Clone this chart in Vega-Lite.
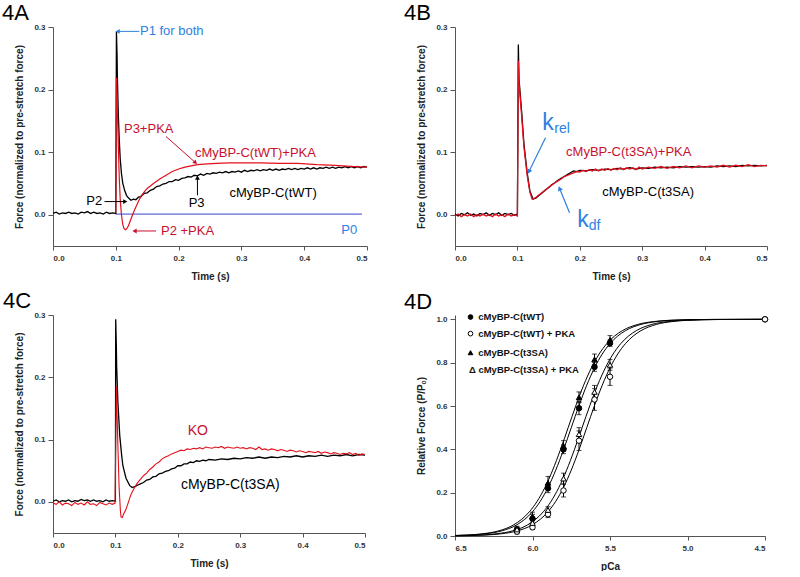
{
"$schema":"https://vega.github.io/schema/vega-lite/v6.json",
"background":"white",
"padding":{"left":2,"top":2,"right":0,"bottom":0},
"datasets":{
"Ak":[{"t":0,"f":0.002},{"t":0.005,"f":0.004},{"t":0.01,"f":0.001},{"t":0.015,"f":0.003},{"t":0.02,"f":0.002},{"t":0.025,"f":0.004},{"t":0.03,"f":0.002},{"t":0.035,"f":0.003},{"t":0.04,"f":0.001},{"t":0.045,"f":0.004},{"t":0.05,"f":0.003},{"t":0.055,"f":0.005},{"t":0.06,"f":0.002},{"t":0.065,"f":0.004},{"t":0.07,"f":0.002},{"t":0.075,"f":0.003},{"t":0.08,"f":0.001},{"t":0.085,"f":0.004},{"t":0.09,"f":0.002},{"t":0.095,"f":0.003},{"t":0.1,"f":0.002},{"t":0.101,"f":0.293},{"t":0.102,"f":0.255},{"t":0.1025,"f":0.22},{"t":0.104,"f":0.16},{"t":0.1055,"f":0.12},{"t":0.107,"f":0.09},{"t":0.109,"f":0.066},{"t":0.111,"f":0.051},{"t":0.114,"f":0.039},{"t":0.117,"f":0.031},{"t":0.12,"f":0.027},{"t":0.124,"f":0.023},{"t":0.128,"f":0.025},{"t":0.132,"f":0.024},{"t":0.136,"f":0.028},{"t":0.14,"f":0.029},{"t":0.145,"f":0.034},{"t":0.15,"f":0.035},{"t":0.155,"f":0.039},{"t":0.16,"f":0.041},{"t":0.165,"f":0.045},{"t":0.17,"f":0.046},{"t":0.175,"f":0.049},{"t":0.18,"f":0.05},{"t":0.185,"f":0.053},{"t":0.19,"f":0.053},{"t":0.195,"f":0.056},{"t":0.2,"f":0.055},{"t":0.205,"f":0.058},{"t":0.21,"f":0.059},{"t":0.215,"f":0.061},{"t":0.22,"f":0.06},{"t":0.225,"f":0.063},{"t":0.23,"f":0.062},{"t":0.235,"f":0.065},{"t":0.24,"f":0.063},{"t":0.245,"f":0.066},{"t":0.25,"f":0.065},{"t":0.255,"f":0.067},{"t":0.26,"f":0.066},{"t":0.265,"f":0.068},{"t":0.27,"f":0.067},{"t":0.275,"f":0.069},{"t":0.28,"f":0.067},{"t":0.285,"f":0.069},{"t":0.29,"f":0.068},{"t":0.295,"f":0.07},{"t":0.3,"f":0.068},{"t":0.305,"f":0.071},{"t":0.31,"f":0.069},{"t":0.315,"f":0.071},{"t":0.32,"f":0.07},{"t":0.325,"f":0.072},{"t":0.33,"f":0.07},{"t":0.335,"f":0.072},{"t":0.34,"f":0.071},{"t":0.345,"f":0.073},{"t":0.35,"f":0.071},{"t":0.355,"f":0.073},{"t":0.36,"f":0.071},{"t":0.365,"f":0.073},{"t":0.37,"f":0.072},{"t":0.375,"f":0.074},{"t":0.38,"f":0.072},{"t":0.385,"f":0.074},{"t":0.39,"f":0.072},{"t":0.395,"f":0.074},{"t":0.4,"f":0.073},{"t":0.405,"f":0.075},{"t":0.41,"f":0.073},{"t":0.415,"f":0.075},{"t":0.42,"f":0.073},{"t":0.425,"f":0.075},{"t":0.43,"f":0.074},{"t":0.435,"f":0.076},{"t":0.44,"f":0.074},{"t":0.445,"f":0.076},{"t":0.45,"f":0.074},{"t":0.455,"f":0.076},{"t":0.46,"f":0.075},{"t":0.465,"f":0.077},{"t":0.47,"f":0.075},{"t":0.475,"f":0.077},{"t":0.48,"f":0.075},{"t":0.485,"f":0.077},{"t":0.49,"f":0.075},{"t":0.495,"f":0.077},{"t":0.5,"f":0.076}],
"Ar":[{"t":0.1,"f":0.003},{"t":0.101,"f":0.219},{"t":0.1025,"f":0.17},{"t":0.104,"f":0.11},{"t":0.1055,"f":0.06},{"t":0.107,"f":0.025},{"t":0.109,"f":0.0},{"t":0.111,"f":-0.015},{"t":0.113,"f":-0.022},{"t":0.115,"f":-0.024},{"t":0.117,"f":-0.023},{"t":0.12,"f":-0.018},{"t":0.123,"f":-0.01},{"t":0.126,"f":-0.002},{"t":0.13,"f":0.008},{"t":0.135,"f":0.019},{"t":0.14,"f":0.029},{"t":0.145,"f":0.036},{"t":0.15,"f":0.042},{"t":0.16,"f":0.05},{"t":0.17,"f":0.057},{"t":0.18,"f":0.063},{"t":0.19,"f":0.069},{"t":0.2,"f":0.073},{"t":0.21,"f":0.076},{"t":0.22,"f":0.078},{"t":0.23,"f":0.08},{"t":0.24,"f":0.081},{"t":0.26,"f":0.082},{"t":0.28,"f":0.083},{"t":0.3,"f":0.083},{"t":0.33,"f":0.083},{"t":0.36,"f":0.082},{"t":0.39,"f":0.082},{"t":0.42,"f":0.08},{"t":0.45,"f":0.079},{"t":0.48,"f":0.077},{"t":0.5,"f":0.076}],
"A0":[{"t":0.1,"t2":0.492,"f":0.001}],
"Aa":[{"t":0.104,"f":0.293,"t2":0.1375,"f2":0.293,"d":"left","r":"ref"},{"t":0.226,"f":0.084,"t2":0.18,"f2":0.125,"d":"dr","r":"pka"},{"t":0.114,"f":0.021,"t2":0.082,"f2":0.021,"d":"right","r":"ctrl"},{"t":0.23,"f":0.058,"t2":0.23,"f2":0.031,"d":"up","r":"ctrl"},{"t":0.131,"f":-0.026,"t2":0.164,"f2":-0.026,"d":"left","r":"pka"}],
"At":[{"txt":"P1 for both","t":0.1385,"f":0.293,"r":"ref"},{"txt":"P3+PKA","t":0.113,"f":0.137,"r":"pka"},{"txt":"cMyBP-C(tWT)+PKA","t":0.226,"f":0.099,"r":"pka"},{"txt":"cMyBP-C(tWT)","t":0.281,"f":0.035,"r":"ctrl"},{"txt":"P3","t":0.216,"f":0.019,"r":"ctrl"},{"txt":"P2","t":0.053,"f":0.022,"r":"ctrl"},{"txt":"P2 +PKA","t":0.172,"f":-0.026,"r":"pka"},{"txt":"P0","t":0.459,"f":-0.024,"r":"ref"}],
"Bk":[{"t":0,"f":0.001},{"t":0.005,"f":-0.002},{"t":0.01,"f":0.002},{"t":0.015,"f":0.0},{"t":0.02,"f":0.003},{"t":0.025,"f":-0.001},{"t":0.03,"f":0.001},{"t":0.035,"f":-0.002},{"t":0.04,"f":0.002},{"t":0.045,"f":0.0},{"t":0.05,"f":0.003},{"t":0.055,"f":-0.001},{"t":0.06,"f":0.002},{"t":0.065,"f":0.0},{"t":0.07,"f":0.003},{"t":0.075,"f":-0.001},{"t":0.08,"f":0.002},{"t":0.085,"f":0.0},{"t":0.09,"f":0.002},{"t":0.095,"f":-0.001},{"t":0.1,"f":0.001},{"t":0.1015,"f":0.272},{"t":0.1025,"f":0.218},{"t":0.1067,"f":0.166},{"t":0.1105,"f":0.113},{"t":0.1158,"f":0.066},{"t":0.12,"f":0.038},{"t":0.1249,"f":0.025},{"t":0.13,"f":0.027},{"t":0.135,"f":0.031},{"t":0.14,"f":0.035},{"t":0.145,"f":0.04},{"t":0.15,"f":0.043},{"t":0.155,"f":0.048},{"t":0.16,"f":0.051},{"t":0.165,"f":0.055},{"t":0.17,"f":0.058},{"t":0.175,"f":0.061},{"t":0.18,"f":0.064},{"t":0.185,"f":0.067},{"t":0.19,"f":0.07},{"t":0.195,"f":0.069},{"t":0.2,"f":0.071},{"t":0.21,"f":0.07},{"t":0.22,"f":0.072},{"t":0.23,"f":0.071},{"t":0.24,"f":0.073},{"t":0.25,"f":0.072},{"t":0.26,"f":0.074},{"t":0.27,"f":0.073},{"t":0.28,"f":0.075},{"t":0.29,"f":0.073},{"t":0.3,"f":0.075},{"t":0.31,"f":0.074},{"t":0.32,"f":0.076},{"t":0.33,"f":0.075},{"t":0.34,"f":0.076},{"t":0.35,"f":0.075},{"t":0.36,"f":0.077},{"t":0.37,"f":0.076},{"t":0.38,"f":0.077},{"t":0.39,"f":0.076},{"t":0.4,"f":0.077},{"t":0.41,"f":0.076},{"t":0.42,"f":0.078},{"t":0.43,"f":0.077},{"t":0.44,"f":0.078},{"t":0.45,"f":0.077},{"t":0.46,"f":0.079},{"t":0.47,"f":0.078},{"t":0.48,"f":0.079},{"t":0.49,"f":0.078},{"t":0.5,"f":0.079}],
"Br":[{"t":0,"f":-0.002},{"t":0.005,"f":0.001},{"t":0.01,"f":-0.003},{"t":0.015,"f":0.0},{"t":0.02,"f":-0.002},{"t":0.025,"f":0.001},{"t":0.03,"f":-0.003},{"t":0.035,"f":0.0},{"t":0.04,"f":-0.002},{"t":0.045,"f":0.001},{"t":0.05,"f":-0.002},{"t":0.055,"f":0.0},{"t":0.06,"f":-0.003},{"t":0.065,"f":0.001},{"t":0.07,"f":-0.002},{"t":0.075,"f":0.0},{"t":0.08,"f":-0.003},{"t":0.085,"f":0.001},{"t":0.09,"f":-0.002},{"t":0.095,"f":0.0},{"t":0.1,"f":-0.002},{"t":0.1015,"f":0.246},{"t":0.103,"f":0.205},{"t":0.1067,"f":0.16},{"t":0.1105,"f":0.108},{"t":0.1158,"f":0.062},{"t":0.12,"f":0.036},{"t":0.1235,"f":0.025},{"t":0.127,"f":0.026},{"t":0.13,"f":0.028},{"t":0.135,"f":0.032},{"t":0.14,"f":0.036},{"t":0.145,"f":0.039},{"t":0.15,"f":0.044},{"t":0.155,"f":0.047},{"t":0.16,"f":0.051},{"t":0.165,"f":0.054},{"t":0.17,"f":0.057},{"t":0.175,"f":0.061},{"t":0.18,"f":0.063},{"t":0.185,"f":0.065},{"t":0.19,"f":0.067},{"t":0.195,"f":0.069},{"t":0.2,"f":0.068},{"t":0.205,"f":0.071},{"t":0.21,"f":0.069},{"t":0.215,"f":0.072},{"t":0.22,"f":0.07},{"t":0.225,"f":0.073},{"t":0.23,"f":0.07},{"t":0.235,"f":0.073},{"t":0.24,"f":0.071},{"t":0.245,"f":0.074},{"t":0.25,"f":0.071},{"t":0.255,"f":0.074},{"t":0.26,"f":0.072},{"t":0.265,"f":0.075},{"t":0.27,"f":0.072},{"t":0.275,"f":0.075},{"t":0.28,"f":0.073},{"t":0.285,"f":0.075},{"t":0.29,"f":0.072},{"t":0.295,"f":0.076},{"t":0.3,"f":0.073},{"t":0.31,"f":0.076},{"t":0.32,"f":0.074},{"t":0.33,"f":0.077},{"t":0.34,"f":0.074},{"t":0.35,"f":0.077},{"t":0.36,"f":0.075},{"t":0.37,"f":0.078},{"t":0.38,"f":0.075},{"t":0.39,"f":0.078},{"t":0.4,"f":0.076},{"t":0.41,"f":0.078},{"t":0.42,"f":0.076},{"t":0.43,"f":0.079},{"t":0.44,"f":0.076},{"t":0.45,"f":0.079},{"t":0.46,"f":0.077},{"t":0.47,"f":0.08},{"t":0.48,"f":0.077},{"t":0.49,"f":0.079},{"t":0.5,"f":0.078}],
"Ba":[{"t":0.119,"f":0.07,"t2":0.145,"f2":0.123,"d":"dl","r":"ref"},{"t":0.168,"f":0.041,"t2":0.1835,"f2":0.003,"d":"ul","r":"ref"}],
"Bt":[{"txt":"cMyBP-C(t3SA)+PKA","t":0.178,"f":0.1,"r":"pka"},{"txt":"cMyBP-C(t3SA)","t":0.236,"f":0.036,"r":"ctrl"}],
"Bk1":[{"txt":"k","t":0.14,"f":0.136,"r":"ref"},{"txt":"k","t":0.196,"f":-0.019,"r":"ref"}],
"Bk2":[{"txt":"rel","t":0.159,"f":0.131,"r":"ref"},{"txt":"df","t":0.2144,"f":-0.024,"r":"ref"}],
"Ck":[{"t":0,"f":0.001},{"t":0.005,"f":0.003},{"t":0.01,"f":0.0},{"t":0.015,"f":0.002},{"t":0.02,"f":0.001},{"t":0.025,"f":0.003},{"t":0.03,"f":0.0},{"t":0.035,"f":0.002},{"t":0.04,"f":0.001},{"t":0.045,"f":0.004},{"t":0.05,"f":0.002},{"t":0.055,"f":0.003},{"t":0.06,"f":0.001},{"t":0.065,"f":0.003},{"t":0.07,"f":0.001},{"t":0.075,"f":0.002},{"t":0.08,"f":0.0},{"t":0.085,"f":0.003},{"t":0.09,"f":0.001},{"t":0.095,"f":0.002},{"t":0.1,"f":0.001},{"t":0.1005,"f":0.293},{"t":0.1015,"f":0.25},{"t":0.102,"f":0.218},{"t":0.104,"f":0.16},{"t":0.107,"f":0.106},{"t":0.11,"f":0.075},{"t":0.112,"f":0.058},{"t":0.117,"f":0.038},{"t":0.123,"f":0.026},{"t":0.127,"f":0.023},{"t":0.132,"f":0.025},{"t":0.136,"f":0.027},{"t":0.14,"f":0.029},{"t":0.145,"f":0.031},{"t":0.15,"f":0.035},{"t":0.155,"f":0.036},{"t":0.16,"f":0.04},{"t":0.165,"f":0.041},{"t":0.17,"f":0.045},{"t":0.175,"f":0.046},{"t":0.18,"f":0.049},{"t":0.185,"f":0.05},{"t":0.19,"f":0.053},{"t":0.195,"f":0.054},{"t":0.2,"f":0.058},{"t":0.205,"f":0.058},{"t":0.21,"f":0.061},{"t":0.215,"f":0.061},{"t":0.22,"f":0.064},{"t":0.225,"f":0.063},{"t":0.23,"f":0.066},{"t":0.235,"f":0.065},{"t":0.24,"f":0.067},{"t":0.245,"f":0.066},{"t":0.25,"f":0.068},{"t":0.26,"f":0.067},{"t":0.27,"f":0.069},{"t":0.28,"f":0.068},{"t":0.29,"f":0.07},{"t":0.3,"f":0.069},{"t":0.31,"f":0.071},{"t":0.32,"f":0.07},{"t":0.33,"f":0.072},{"t":0.34,"f":0.07},{"t":0.35,"f":0.072},{"t":0.36,"f":0.071},{"t":0.37,"f":0.073},{"t":0.38,"f":0.072},{"t":0.39,"f":0.074},{"t":0.4,"f":0.072},{"t":0.41,"f":0.074},{"t":0.42,"f":0.073},{"t":0.43,"f":0.075},{"t":0.44,"f":0.073},{"t":0.45,"f":0.075},{"t":0.46,"f":0.074},{"t":0.47,"f":0.076},{"t":0.48,"f":0.074},{"t":0.49,"f":0.076},{"t":0.5,"f":0.075}],
"Cr":[{"t":0,"f":-0.002},{"t":0.005,"f":-0.004},{"t":0.01,"f":0.0},{"t":0.015,"f":-0.005},{"t":0.02,"f":-0.002},{"t":0.025,"f":-0.003},{"t":0.03,"f":-0.006},{"t":0.035,"f":-0.001},{"t":0.04,"f":-0.004},{"t":0.045,"f":-0.002},{"t":0.05,"f":-0.005},{"t":0.055,"f":0.0},{"t":0.06,"f":-0.004},{"t":0.065,"f":-0.003},{"t":0.07,"f":-0.006},{"t":0.075,"f":-0.001},{"t":0.08,"f":-0.003},{"t":0.085,"f":-0.005},{"t":0.09,"f":-0.002},{"t":0.095,"f":-0.004},{"t":0.0995,"f":-0.002},{"t":0.1015,"f":0.186},{"t":0.104,"f":0.09},{"t":0.106,"f":0.022},{"t":0.108,"f":-0.014},{"t":0.109,"f":-0.024},{"t":0.111,"f":-0.025},{"t":0.113,"f":-0.02},{"t":0.117,"f":-0.012},{"t":0.121,"f":0.0},{"t":0.125,"f":0.012},{"t":0.13,"f":0.022},{"t":0.135,"f":0.03},{"t":0.139,"f":0.035},{"t":0.145,"f":0.042},{"t":0.15,"f":0.046},{"t":0.155,"f":0.052},{"t":0.16,"f":0.056},{"t":0.165,"f":0.061},{"t":0.17,"f":0.064},{"t":0.175,"f":0.069},{"t":0.18,"f":0.072},{"t":0.185,"f":0.074},{"t":0.19,"f":0.077},{"t":0.195,"f":0.079},{"t":0.2,"f":0.081},{"t":0.205,"f":0.083},{"t":0.21,"f":0.082},{"t":0.215,"f":0.085},{"t":0.22,"f":0.084},{"t":0.225,"f":0.086},{"t":0.23,"f":0.085},{"t":0.235,"f":0.087},{"t":0.24,"f":0.085},{"t":0.245,"f":0.088},{"t":0.25,"f":0.087},{"t":0.255,"f":0.086},{"t":0.26,"f":0.088},{"t":0.265,"f":0.087},{"t":0.27,"f":0.089},{"t":0.275,"f":0.086},{"t":0.28,"f":0.088},{"t":0.285,"f":0.087},{"t":0.29,"f":0.086},{"t":0.295,"f":0.088},{"t":0.3,"f":0.086},{"t":0.305,"f":0.087},{"t":0.31,"f":0.085},{"t":0.315,"f":0.087},{"t":0.32,"f":0.086},{"t":0.325,"f":0.084},{"t":0.33,"f":0.088},{"t":0.335,"f":0.084},{"t":0.34,"f":0.085},{"t":0.345,"f":0.083},{"t":0.35,"f":0.085},{"t":0.355,"f":0.084},{"t":0.36,"f":0.082},{"t":0.365,"f":0.084},{"t":0.37,"f":0.083},{"t":0.375,"f":0.081},{"t":0.38,"f":0.083},{"t":0.385,"f":0.082},{"t":0.39,"f":0.08},{"t":0.395,"f":0.082},{"t":0.4,"f":0.081},{"t":0.405,"f":0.079},{"t":0.41,"f":0.081},{"t":0.415,"f":0.08},{"t":0.42,"f":0.079},{"t":0.425,"f":0.081},{"t":0.43,"f":0.078},{"t":0.435,"f":0.08},{"t":0.44,"f":0.079},{"t":0.445,"f":0.077},{"t":0.45,"f":0.079},{"t":0.455,"f":0.078},{"t":0.46,"f":0.076},{"t":0.465,"f":0.078},{"t":0.47,"f":0.077},{"t":0.475,"f":0.079},{"t":0.48,"f":0.076},{"t":0.485,"f":0.078},{"t":0.49,"f":0.075},{"t":0.495,"f":0.077},{"t":0.5,"f":0.076}],
"Ct":[{"txt":"KO","t":0.216,"f":0.113,"r":"pka"},{"txt":"cMyBP-C(t3SA)","t":0.205,"f":0.027,"r":"ctrl"}],
"Dc":[
{"c":"tWT","x":6.5,"y":0.002},{"c":"tWT","x":6.4,"y":0.0046},{"c":"tWT","x":6.3,"y":0.0104},{"c":"tWT","x":6.2,"y":0.0234},{"c":"tWT","x":6.1,"y":0.0521},{"c":"tWT","x":6.0,"y":0.1118},{"c":"tWT","x":5.95,"y":0.16},{"c":"tWT","x":5.9,"y":0.2239},{"c":"tWT","x":5.85,"y":0.3039},{"c":"tWT","x":5.8,"y":0.3978},{"c":"tWT","x":5.75,"y":0.5},{"c":"tWT","x":5.7,"y":0.6022},{"c":"tWT","x":5.65,"y":0.6961},{"c":"tWT","x":5.6,"y":0.7761},{"c":"tWT","x":5.55,"y":0.84},{"c":"tWT","x":5.5,"y":0.8882},{"c":"tWT","x":5.45,"y":0.9232},{"c":"tWT","x":5.4,"y":0.9479},{"c":"tWT","x":5.3,"y":0.9766},{"c":"tWT","x":5.2,"y":0.9896},{"c":"tWT","x":5.1,"y":0.9955},{"c":"tWT","x":5.0,"y":0.998},{"c":"tWT","x":4.9,"y":0.9991},{"c":"tWT","x":4.8,"y":0.9996},{"c":"tWT","x":4.5,"y":1.0},
{"c":"t3SA","x":6.5,"y":0.0024},{"c":"t3SA","x":6.42,"y":0.0046},{"c":"t3SA","x":6.32,"y":0.0104},{"c":"t3SA","x":6.22,"y":0.0234},{"c":"t3SA","x":6.12,"y":0.0521},{"c":"t3SA","x":6.02,"y":0.1118},{"c":"t3SA","x":5.97,"y":0.16},{"c":"t3SA","x":5.92,"y":0.2239},{"c":"t3SA","x":5.87,"y":0.3039},{"c":"t3SA","x":5.82,"y":0.3978},{"c":"t3SA","x":5.77,"y":0.5},{"c":"t3SA","x":5.72,"y":0.6022},{"c":"t3SA","x":5.67,"y":0.6961},{"c":"t3SA","x":5.62,"y":0.7761},{"c":"t3SA","x":5.57,"y":0.84},{"c":"t3SA","x":5.52,"y":0.8882},{"c":"t3SA","x":5.47,"y":0.9232},{"c":"t3SA","x":5.42,"y":0.9479},{"c":"t3SA","x":5.32,"y":0.9766},{"c":"t3SA","x":5.22,"y":0.9896},{"c":"t3SA","x":5.12,"y":0.9955},{"c":"t3SA","x":5.02,"y":0.998},{"c":"t3SA","x":4.92,"y":0.9991},{"c":"t3SA","x":4.82,"y":0.9996},{"c":"t3SA","x":4.5,"y":1.0},
{"c":"tWTP","x":6.5,"y":0.0009},{"c":"tWTP","x":6.4,"y":0.002},{"c":"tWTP","x":6.3,"y":0.0046},{"c":"tWTP","x":6.2,"y":0.0104},{"c":"tWTP","x":6.1,"y":0.0234},{"c":"tWTP","x":6.0,"y":0.0521},{"c":"tWTP","x":5.9,"y":0.1118},{"c":"tWTP","x":5.85,"y":0.16},{"c":"tWTP","x":5.8,"y":0.2239},{"c":"tWTP","x":5.75,"y":0.3039},{"c":"tWTP","x":5.7,"y":0.3978},{"c":"tWTP","x":5.65,"y":0.5},{"c":"tWTP","x":5.6,"y":0.6022},{"c":"tWTP","x":5.55,"y":0.6961},{"c":"tWTP","x":5.5,"y":0.7761},{"c":"tWTP","x":5.45,"y":0.84},{"c":"tWTP","x":5.4,"y":0.8882},{"c":"tWTP","x":5.35,"y":0.9232},{"c":"tWTP","x":5.3,"y":0.9479},{"c":"tWTP","x":5.2,"y":0.9766},{"c":"tWTP","x":5.1,"y":0.9896},{"c":"tWTP","x":5.0,"y":0.9955},{"c":"tWTP","x":4.9,"y":0.998},{"c":"tWTP","x":4.8,"y":0.9991},{"c":"tWTP","x":4.5,"y":1.0},
{"c":"t3SAP","x":6.5,"y":0.0011},{"c":"t3SAP","x":6.43,"y":0.002},{"c":"t3SAP","x":6.33,"y":0.0046},{"c":"t3SAP","x":6.23,"y":0.0104},{"c":"t3SAP","x":6.13,"y":0.0234},{"c":"t3SAP","x":6.03,"y":0.0521},{"c":"t3SAP","x":5.93,"y":0.1118},{"c":"t3SAP","x":5.88,"y":0.16},{"c":"t3SAP","x":5.83,"y":0.2239},{"c":"t3SAP","x":5.78,"y":0.3039},{"c":"t3SAP","x":5.73,"y":0.3978},{"c":"t3SAP","x":5.68,"y":0.5},{"c":"t3SAP","x":5.63,"y":0.6022},{"c":"t3SAP","x":5.58,"y":0.6961},{"c":"t3SAP","x":5.53,"y":0.7761},{"c":"t3SAP","x":5.48,"y":0.84},{"c":"t3SAP","x":5.43,"y":0.8882},{"c":"t3SAP","x":5.38,"y":0.9232},{"c":"t3SAP","x":5.33,"y":0.9479},{"c":"t3SAP","x":5.23,"y":0.9766},{"c":"t3SAP","x":5.13,"y":0.9896},{"c":"t3SAP","x":5.03,"y":0.9955},{"c":"t3SAP","x":4.93,"y":0.998},{"c":"t3SAP","x":4.83,"y":0.9991},{"c":"t3SAP","x":4.5,"y":1.0}],
"Dp":[
{"g":"tWT","x":6.1,"y":0.03,"lo":0.02,"hi":0.04},{"g":"tWT","x":6.0,"y":0.08,"lo":0.06,"hi":0.1},{"g":"tWT","x":5.9,"y":0.22,"lo":0.2,"hi":0.24},{"g":"tWT","x":5.8,"y":0.4,"lo":0.38,"hi":0.42},{"g":"tWT","x":5.7,"y":0.59,"lo":0.56,"hi":0.62},{"g":"tWT","x":5.6,"y":0.78,"lo":0.76,"hi":0.8},{"g":"tWT","x":5.5,"y":0.89,"lo":0.875,"hi":0.905},{"g":"tWT","x":4.5,"y":1.0,"lo":1.0,"hi":1.0},
{"g":"tWTP","x":6.1,"y":0.02,"lo":0.01,"hi":0.03},{"g":"tWTP","x":6.0,"y":0.04,"lo":0.03,"hi":0.05},{"g":"tWTP","x":5.9,"y":0.1,"lo":0.085,"hi":0.115},{"g":"tWTP","x":5.8,"y":0.21,"lo":0.18,"hi":0.24},{"g":"tWTP","x":5.7,"y":0.44,"lo":0.395,"hi":0.485},{"g":"tWTP","x":5.6,"y":0.63,"lo":0.58,"hi":0.68},{"g":"tWTP","x":5.5,"y":0.735,"lo":0.695,"hi":0.775},{"g":"tWTP","x":4.5,"y":1.0,"lo":1.0,"hi":1.0},
{"g":"t3SA","x":6.1,"y":0.035,"lo":0.025,"hi":0.045},{"g":"t3SA","x":6.0,"y":0.09,"lo":0.07,"hi":0.11},{"g":"t3SA","x":5.9,"y":0.245,"lo":0.215,"hi":0.275},{"g":"t3SA","x":5.8,"y":0.415,"lo":0.39,"hi":0.44},{"g":"t3SA","x":5.7,"y":0.64,"lo":0.615,"hi":0.665},{"g":"t3SA","x":5.6,"y":0.815,"lo":0.79,"hi":0.84},{"g":"t3SA","x":5.5,"y":0.905,"lo":0.885,"hi":0.925},
{"g":"t3SAP","x":6.1,"y":0.03,"lo":0.02,"hi":0.04},{"g":"t3SAP","x":6.0,"y":0.06,"lo":0.045,"hi":0.075},{"g":"t3SAP","x":5.9,"y":0.12,"lo":0.105,"hi":0.135},{"g":"t3SAP","x":5.8,"y":0.265,"lo":0.24,"hi":0.29},{"g":"t3SAP","x":5.7,"y":0.47,"lo":0.44,"hi":0.5},{"g":"t3SAP","x":5.6,"y":0.665,"lo":0.635,"hi":0.695},{"g":"t3SAP","x":5.5,"y":0.79,"lo":0.765,"hi":0.815}],
"Dl":[{"g":"tWT","x":6.4,"y":1.0106},{"g":"tWTP","x":6.4,"y":0.934},{"g":"t3SA","x":6.4,"y":0.846}],
"Dlt":[{"txt":"cMyBP-C(tWT)","x":6.35,"y":1.0106},{"txt":"cMyBP-C(tWT) + PKA","x":6.35,"y":0.934},{"txt":"cMyBP-C(t3SA)","x":6.35,"y":0.846},{"txt":"Δ cMyBP-C(t3SA) + PKA","x":6.41,"y":0.765}]
},
"columns":2,
"bounds":"flush",
"spacing":{"row":69,"column":88},
"resolve":{"scale":{"x":"independent","y":"independent","color":"independent","shape":"independent","fill":"independent"}},
"concat":[
{"width":314,"height":219,
"title":{"text":"4A","dx":-51,"dy":2,"offset":0},
"encoding":{
"x":{"field":"t","type":"quantitative","scale":{"domain":[0,0.5],"nice":false,"zero":false},"axis":{"title":"Time (s)","values":[0,0.1,0.2,0.3,0.4,0.5],"format":".1f"}},
"y":{"field":"f","type":"quantitative","scale":{"domain":[-0.05,0.3],"nice":false,"zero":false},"axis":{"title":"Force (normalized to pre-stretch force)","values":[0,0.1,0.2,0.3],"format":".1f"}}},
"layer":[
{"data":{"name":"A0"},"mark":{"type":"rule","color":"#3344cc","strokeWidth":1},"encoding":{"x2":{"field":"t2"}}},
{"data":{"name":"Ak"},"mark":{"type":"line","color":"#000000","strokeWidth":1.3}},
{"data":{"name":"Ar"},"mark":{"type":"line","color":"#e3101c","strokeWidth":1.2}},
{"data":{"name":"Aa"},"mark":{"type":"rule","strokeWidth":1},"encoding":{"x2":{"field":"t2"},"y2":{"field":"f2"},"color":{"field":"r","type":"nominal","scale":{"domain":["ctrl","pka","ref"],"range":["#000000","#c8102e","#2f80e0"]},"legend":null}}},
{"data":{"name":"Aa"},"transform":[{"filter":"datum.d === 'left'"}],"mark":{"type":"point","shape":"triangle","angle":270,"filled":true,"size":24,"opacity":1},"encoding":{"color":{"field":"r","type":"nominal","legend":null}}},
{"data":{"name":"Aa"},"transform":[{"filter":"datum.d === 'right'"}],"mark":{"type":"point","shape":"triangle","angle":90,"filled":true,"size":24,"opacity":1},"encoding":{"color":{"field":"r","type":"nominal","legend":null}}},
{"data":{"name":"Aa"},"transform":[{"filter":"datum.d === 'up'"}],"mark":{"type":"point","shape":"triangle","angle":0,"filled":true,"size":24,"opacity":1},"encoding":{"color":{"field":"r","type":"nominal","legend":null}}},
{"data":{"name":"Aa"},"transform":[{"filter":"datum.d === 'dr'"}],"mark":{"type":"point","shape":"triangle","angle":132,"filled":true,"size":24,"opacity":1},"encoding":{"color":{"field":"r","type":"nominal","legend":null}}},
{"data":{"name":"At"},"mark":{"type":"text","align":"left","baseline":"middle","fontSize":13},"encoding":{"text":{"field":"txt"},"color":{"field":"r","type":"nominal","legend":null}}}
]},
{"width":312,"height":219,
"title":{"text":"4B","dx":-51,"dy":2,"offset":0},
"encoding":{
"x":{"field":"t","type":"quantitative","scale":{"domain":[0,0.5],"nice":false,"zero":false},"axis":{"title":"Time (s)","values":[0,0.1,0.2,0.3,0.4,0.5],"format":".1f"}},
"y":{"field":"f","type":"quantitative","scale":{"domain":[-0.05,0.3],"nice":false,"zero":false},"axis":{"title":"Force (normalized to pre-stretch force)","values":[0,0.1,0.2,0.3],"format":".1f"}}},
"layer":[
{"data":{"name":"Bk"},"mark":{"type":"line","color":"#000000","strokeWidth":1.3}},
{"data":{"name":"Br"},"mark":{"type":"line","color":"#e3101c","strokeWidth":1.3}},
{"data":{"name":"Ba"},"mark":{"type":"rule","strokeWidth":1.2},"encoding":{"x2":{"field":"t2"},"y2":{"field":"f2"},"color":{"field":"r","type":"nominal","scale":{"domain":["ctrl","pka","ref"],"range":["#000000","#c8102e","#2f80e0"]},"legend":null}}},
{"data":{"name":"Ba"},"transform":[{"filter":"datum.d === 'dl'"}],"mark":{"type":"point","shape":"triangle","angle":206,"filled":true,"size":28,"opacity":1},"encoding":{"color":{"field":"r","type":"nominal","legend":null}}},
{"data":{"name":"Ba"},"transform":[{"filter":"datum.d === 'ul'"}],"mark":{"type":"point","shape":"triangle","angle":337,"filled":true,"size":28,"opacity":1},"encoding":{"color":{"field":"r","type":"nominal","legend":null}}},
{"data":{"name":"Bt"},"mark":{"type":"text","align":"left","baseline":"middle","fontSize":13},"encoding":{"text":{"field":"txt"},"color":{"field":"r","type":"nominal","legend":null}}},
{"data":{"name":"Bk1"},"mark":{"type":"text","align":"left","baseline":"alphabetic","fontSize":23},"encoding":{"text":{"field":"txt"},"color":{"field":"r","type":"nominal","legend":null}}},
{"data":{"name":"Bk2"},"mark":{"type":"text","align":"left","baseline":"alphabetic","fontSize":14},"encoding":{"text":{"field":"txt"},"color":{"field":"r","type":"nominal","legend":null}}}
]},
{"width":312,"height":218,
"title":{"text":"4C","dx":-50,"dy":2,"offset":0},
"encoding":{
"x":{"field":"t","type":"quantitative","scale":{"domain":[0,0.5],"nice":false,"zero":false},"axis":{"title":"Time (s)","values":[0,0.1,0.2,0.3,0.4,0.5],"format":".1f"}},
"y":{"field":"f","type":"quantitative","scale":{"domain":[-0.05,0.3],"nice":false,"zero":false},"axis":{"title":"Force (normalized to pre-stretch force)","values":[0,0.1,0.2,0.3],"format":".1f"}}},
"layer":[
{"data":{"name":"Ck"},"mark":{"type":"line","color":"#000000","strokeWidth":1.3}},
{"data":{"name":"Cr"},"mark":{"type":"line","color":"#e3101c","strokeWidth":1.1}},
{"data":{"name":"Ct"},"mark":{"type":"text","align":"left","baseline":"middle","fontSize":14},"encoding":{"text":{"field":"txt"},"color":{"field":"r","type":"nominal","scale":{"domain":["ctrl","pka","ref"],"range":["#000000","#c8102e","#2f80e0"]},"legend":null}}}
]},
{"width":310,"height":221,
"title":{"text":"4D","dx":-51,"dy":2,"offset":0},
"encoding":{
"x":{"field":"x","type":"quantitative","scale":{"domain":[4.5,6.5],"reverse":true,"nice":false,"zero":false},"axis":{"title":"pCa","values":[6.5,6.0,5.5,5.0,4.5],"format":".1f"}},
"y":{"field":"y","type":"quantitative","scale":{"domain":[0,1.02],"nice":false,"zero":false},"axis":{"title":"Relative Force (P/Pₒ)","values":[0,0.2,0.4,0.6,0.8,1.0],"format":".1f"}}},
"layer":[
{"data":{"name":"Dc"},"mark":{"type":"line","color":"#000000","strokeWidth":1,"interpolate":"monotone"},"encoding":{"detail":{"field":"c","type":"nominal"}}},
{"data":{"name":"Dp"},"mark":{"type":"errorbar","ticks":true,"color":"#000000","thickness":1},"encoding":{"y":{"field":"lo","type":"quantitative"},"y2":{"field":"hi"}}},
{"data":{"name":"Dp"},"mark":{"type":"point","stroke":"#000000","strokeWidth":1,"size":30,"opacity":1},"encoding":{"shape":{"field":"g","type":"nominal","scale":{"domain":["tWT","tWTP","t3SA","t3SAP"],"range":["circle","circle","triangle-up","triangle-up"]},"legend":null},"fill":{"field":"g","type":"nominal","scale":{"domain":["tWT","tWTP","t3SA","t3SAP"],"range":["#000000","#ffffff","#000000","#ffffff"]},"legend":null}}},
{"data":{"name":"Dl"},"mark":{"type":"point","stroke":"#000000","strokeWidth":1,"size":22,"opacity":1},"encoding":{"shape":{"field":"g","type":"nominal","legend":null},"fill":{"field":"g","type":"nominal","legend":null}}},
{"data":{"name":"Dlt"},"mark":{"type":"text","align":"left","baseline":"middle","fontSize":9.5,"fontWeight":"bold","color":"#111111"},"encoding":{"text":{"field":"txt"}}}
]}
],
"config":{
"view":{"stroke":null},
"font":"Liberation Sans",
"text":{"font":"Liberation Sans"},
"axis":{"domainColor":"#555555","tickColor":"#555555","labelFont":"Liberation Sans","labelFontWeight":"bold","labelFontSize":8,"labelColor":"#333333","titleFont":"Liberation Sans","titleFontWeight":"bold","titleFontSize":10,"titleColor":"#222222","grid":false,"tickSize":4},
"axisY":{"titlePadding":9,"labelPadding":3,"tickSize":5},
"axisX":{"labelPadding":4,"titlePadding":9},
"title":{"font":"Liberation Sans","fontSize":22,"fontWeight":"normal","anchor":"start","frame":"group","color":"#000000"}
}
}
